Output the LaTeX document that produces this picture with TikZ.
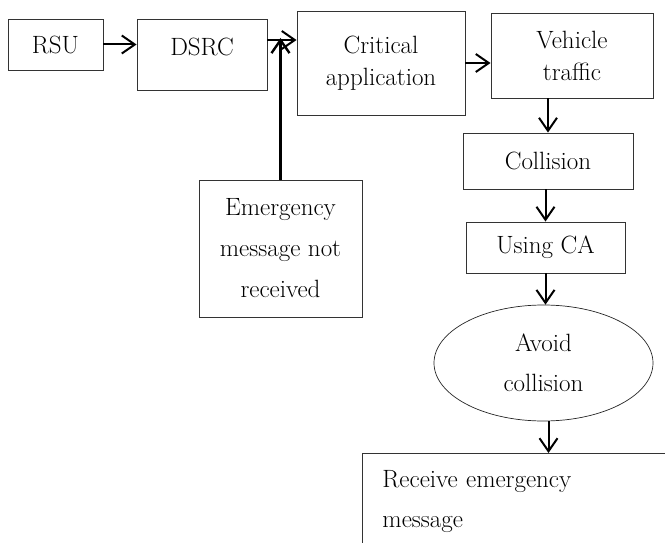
\documentclass[tikz,border=0pt]{standalone}
\usepackage{tikz}
\usetikzlibrary{arrows.meta,positioning,calc,shapes.geometric}

\begin{document}
\begin{tikzpicture}[x=1pt, y=-1pt, >={Straight Barb[length=13pt, width=18pt]},
  blk/.style={draw=black!80, line width=0.9pt, rectangle, inner sep=0pt,
              font=\fontsize{25}{32}\selectfont, align=center},
  oval/.style={draw=black!85, line width=0.7pt, ellipse, inner sep=0pt,
               font=\fontsize{25}{40}\selectfont, align=center},
  flow/.style={->, line width=2pt}]
  \useasboundingbox (0,0) rectangle (665,543);
  \clip (0,0) rectangle (665,543);

  % top row
  \node[blk, minimum width=95pt, minimum height=51pt] (rsu) at (55.5,44.5) {RSU};
  \node[blk, minimum width=130pt, minimum height=71pt, text depth=16pt] (dsrc) at (202,54.5) {DSRC};
  \node[blk, minimum width=168pt, minimum height=104pt] (crit) at (381,63) {Critical\\application};
  \node[blk, minimum width=162pt, minimum height=85pt] (veh) at (572,55.5) {Vehicle\\traffic};

  % right column
  \node[blk, minimum width=170pt, minimum height=56pt] (coll) at (548,161) {Collision};
  \node[blk, minimum width=159pt, minimum height=51pt] (ca) at (545.5,247.5) {Using CA};
  \node[oval, minimum width=219pt, minimum height=116pt] (avoid) at (543.5,363) {Avoid\\collision};
  \node[blk, anchor=north west, text width=320pt, inner xsep=20pt, inner ysep=17pt,
        align=left, font=\fontsize{25}{40}\selectfont] (recv) at (362,453)
        {Receive emergency\\message};

  % feedback into the DSRC link
  \node[blk, minimum width=163pt, minimum height=137pt, font=\fontsize{25}{41}\selectfont]
        (emerg) at (280.5,248.5) {Emergency\\message not\\received};
  \coordinate (join) at (280.5,40);

  \draw[flow] (rsu.east) -- (rsu.east -| dsrc.west);
  \draw[flow] (dsrc.east |- join) -- (crit.west |- join);
  \draw[flow, line width=2.4pt] (emerg.north) -- ([yshift=2pt]join);
  \draw[flow] (crit.east) -- (crit.east -| veh.west);
  \draw[flow] (veh.south -| coll.north) -- (coll.north);
  \draw[flow] (coll.south -| ca.north) -- (ca.north);
  \draw[flow] (ca.south) -- (ca.south |- avoid.north);
  \draw[flow] ([xshift=5pt]avoid.south) -- ([xshift=5pt]avoid.south |- recv.north);
\end{tikzpicture}
\end{document}
